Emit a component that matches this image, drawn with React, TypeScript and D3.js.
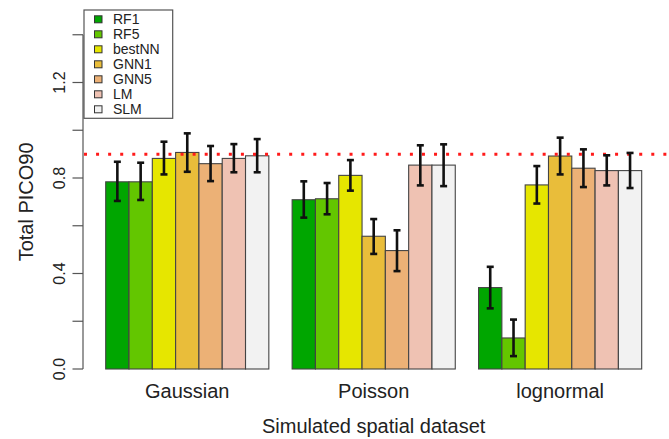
import React, { useEffect, useRef } from 'react';
import * as d3 from 'd3';

// datasets (x groups) and methods (bars inside each group)
const groups = ["Gaussian", "Poisson", "lognormal"];
const methods = ["RF1", "RF5", "bestNN", "GNN1", "GNN5", "LM", "SLM"];
// R terrain.colors(7)
const colors = ["#00A600", "#63C600", "#E6E600", "#E9BD3A", "#ECB176", "#EFC2B3", "#F2F2F2"];

// total PICO90 per method, with lower / upper ends of the error bars
const gaussianMean = [0.784, 0.784, 0.882, 0.907, 0.860, 0.882, 0.893];
const gaussianLow = [0.704, 0.708, 0.815, 0.826, 0.787, 0.824, 0.824];
const gaussianHigh = [0.868, 0.864, 0.952, 0.987, 0.934, 0.942, 0.963];

const poissonMean = [0.709, 0.713, 0.811, 0.556, 0.496, 0.854, 0.854];
const poissonLow = [0.634, 0.648, 0.747, 0.482, 0.410, 0.769, 0.766];
const poissonHigh = [0.786, 0.779, 0.875, 0.628, 0.581, 0.937, 0.941];

const lognormalMean = [0.341, 0.130, 0.771, 0.892, 0.841, 0.831, 0.831];
const lognormalLow = [0.254, 0.054, 0.693, 0.815, 0.762, 0.769, 0.758];
const lognormalHigh = [0.428, 0.207, 0.850, 0.969, 0.920, 0.895, 0.905];

const yTicks = [0, 0.2, 0.4, 0.6, 0.8, 1.0, 1.2, 1.4];
const yLabelTicks = [0, 0.4, 0.8, 1.2];
const targetLevel = 0.9;

export default function App() {
  const ref = useRef<SVGSVGElement>(null);

  useEffect(() => {
    document.body.style.margin = "0";
    const width = 669;
    const height = 439;
    const font = "'Liberation Sans', Arial, Helvetica, sans-serif";

    const rows = [
      { g: groups[0], mean: gaussianMean, lo: gaussianLow, hi: gaussianHigh },
      { g: groups[1], mean: poissonMean, lo: poissonLow, hi: poissonHigh },
      { g: groups[2], mean: lognormalMean, lo: lognormalLow, hi: lognormalHigh },
    ];
    const bars = rows.flatMap(r => methods.map((m, i) => ({
      g: r.g, m, color: colors[i], v: r.mean[i], lo: r.lo[i], hi: r.hi[i],
    })));

    const svg = d3.select(ref.current);
    svg.selectAll("*").remove();
    svg.attr("width", width).attr("height", height).style("font-family", font);

    // scales
    const x0 = d3.scaleBand().domain(groups).range([105.7, 641.7]).paddingInner(1 / 8).paddingOuter(0);
    const x1 = d3.scaleBand().domain(methods).range([0, x0.bandwidth()]).padding(0);
    const y = d3.scaleLinear().domain([0, 1.4]).range([369, 34.75]);

    // bars
    svg.append("g").selectAll("rect")
      .data(bars)
      .enter()
      .append("rect")
      .attr("x", d => x0(d.g) + x1(d.m))
      .attr("y", d => y(d.v))
      .attr("width", x1.bandwidth())
      .attr("height", d => y(0) - y(d.v))
      .attr("fill", d => d.color)
      .attr("stroke", "#444")
      .attr("stroke-width", 1.1);

    // dotted reference line
    svg.append("line")
      .attr("x1", 84).attr("x2", 667)
      .attr("y1", y(targetLevel)).attr("y2", y(targetLevel))
      .attr("stroke", "#ff1a1a")
      .attr("stroke-width", 3)
      .attr("stroke-dasharray", "3 9.07");

    // error bars
    const err = svg.append("g").attr("stroke", "#111").attr("stroke-width", 2.6).attr("fill", "none");
    bars.forEach(d => {
      const cx = x0(d.g) + x1(d.m) + x1.bandwidth() / 2;
      err.append("line").attr("x1", cx).attr("x2", cx).attr("y1", y(d.lo)).attr("y2", y(d.hi));
      err.append("line").attr("x1", cx - 3.5).attr("x2", cx + 3.5).attr("y1", y(d.lo)).attr("y2", y(d.lo));
      err.append("line").attr("x1", cx - 3.5).attr("x2", cx + 3.5).attr("y1", y(d.hi)).attr("y2", y(d.hi));
    });

    // y axis
    const yAxis = svg.append("g").attr("stroke", "#555").attr("stroke-width", 1.2);
    yAxis.append("line").attr("x1", 83).attr("x2", 83).attr("y1", y(0)).attr("y2", y(1.4));
    yAxis.selectAll("line.tick")
      .data(yTicks)
      .enter()
      .append("line")
      .attr("class", "tick")
      .attr("x1", 72.5).attr("x2", 83)
      .attr("y1", d => y(d)).attr("y2", d => y(d));

    svg.append("g").selectAll("text")
      .data(yLabelTicks)
      .enter()
      .append("text")
      .attr("transform", d => `translate(65, ${y(d)}) rotate(-90)`)
      .attr("text-anchor", "middle")
      .style("font-size", "16px")
      .attr("fill", "#222")
      .text(d => d3.format(".1f")(d));

    // axis titles
    svg.append("text")
      .attr("transform", `translate(33, ${(y(-0.056) + y(1.456)) / 2}) rotate(-90)`)
      .attr("text-anchor", "middle")
      .style("font-size", "20px")
      .attr("fill", "#222")
      .text("Total PICO90");

    svg.append("g").selectAll("text")
      .data(groups)
      .enter()
      .append("text")
      .attr("x", d => x0(d) + x0.bandwidth() / 2)
      .attr("y", 398)
      .attr("text-anchor", "middle")
      .style("font-size", "20px")
      .attr("fill", "#222")
      .text(d => d);

    svg.append("text")
      .attr("x", (x0.range()[0] + x0.range()[1]) / 2)
      .attr("y", 433)
      .attr("text-anchor", "middle")
      .style("font-size", "20px")
      .attr("fill", "#222")
      .text("Simulated spatial dataset");

    // legend
    const legend = svg.append("g");
    legend.append("rect")
      .attr("x", 84).attr("y", 10)
      .attr("width", 88.7).attr("height", 108.3)
      .attr("fill", "white")
      .attr("stroke", "#555")
      .attr("stroke-width", 1.2);
    methods.forEach((m, i) => {
      const cy = 19.3 + i * 15;
      legend.append("rect")
        .attr("x", 94.5).attr("y", cy - 3.5)
        .attr("width", 7.5).attr("height", 7)
        .attr("fill", colors[i])
        .attr("stroke", "#333")
        .attr("stroke-width", 1);
      legend.append("text")
        .attr("x", 113)
        .attr("y", cy)
        .attr("dy", "0.36em")
        .style("font-size", "14px")
        .attr("fill", "#222")
        .text(m);
    });
  }, []);

  return <svg ref={ref} style={{ display: 'block' }}></svg>;
}
